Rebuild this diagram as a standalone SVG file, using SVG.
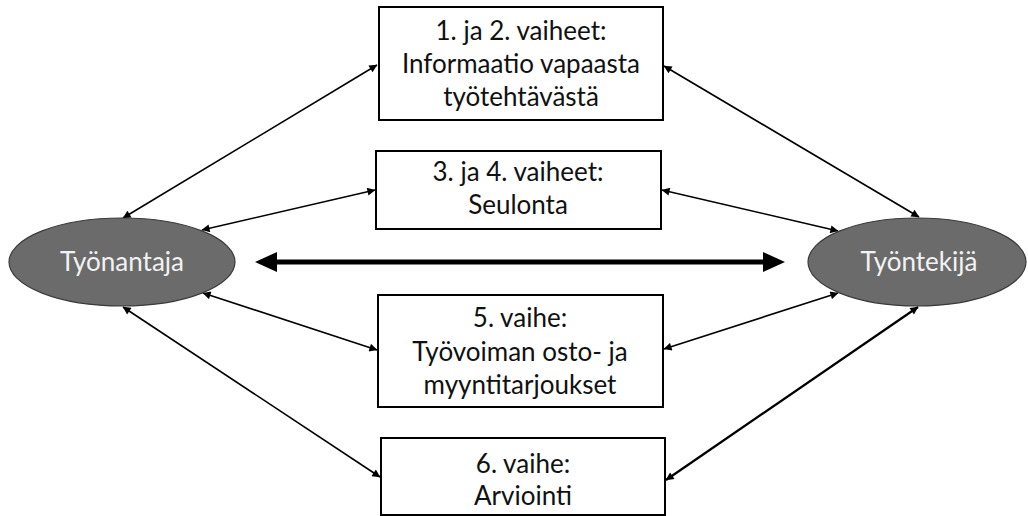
<svg xmlns="http://www.w3.org/2000/svg" width="1028" height="516" viewBox="0 0 1028 516">
  <style>
    .box { fill: #ffffff; stroke: #000000; stroke-width: 2; }
    .party { fill: #6b6b6b; stroke: #3a3a3a; stroke-width: 1.2; }
    .label { font-family: "Lato", "Liberation Sans", sans-serif; font-size: 26px; fill: #111111; text-anchor: middle; }
    .party-label { font-family: "Lato", "Liberation Sans", sans-serif; font-size: 26px; fill: #f2f2f2; text-anchor: middle; }
    .link { stroke: #000000; stroke-width: 1.6; fill: none; marker-start: url(#head); marker-end: url(#head); }
    .link-heavy { stroke-width: 2.3; }
    .exchange { stroke: #000000; stroke-width: 5; fill: none; marker-start: url(#head-bold); marker-end: url(#head-bold); }
  </style>
  <defs>
    <marker id="head" viewBox="0 0 10 10" refX="9.5" refY="5" markerWidth="10" markerHeight="8" markerUnits="userSpaceOnUse" orient="auto-start-reverse">
      <path d="M0,0 L10,5 L0,10 z" fill="#000000"/>
    </marker>
    <marker id="head-bold" viewBox="0 0 22 20" refX="2" refY="10" markerWidth="22" markerHeight="20" markerUnits="userSpaceOnUse" orient="auto-start-reverse">
      <path d="M0,0 L22,10 L0,20 z" fill="#000000"/>
    </marker>
  </defs>

  <rect width="1028" height="516" fill="#ffffff"/>

  <!-- connectors -->
  <g id="connectors">
    <line class="link" x1="123" y1="218" x2="377" y2="65"/>
    <line class="link" x1="202" y1="230" x2="375" y2="190"/>
    <line class="link" x1="203" y1="293" x2="377" y2="350"/>
    <line class="link" x1="123" y1="307" x2="380" y2="477"/>
    <line class="link" x1="919" y1="217" x2="664" y2="66"/>
    <line class="link" x1="838" y1="231" x2="662" y2="190"/>
    <line class="link" x1="838" y1="293" x2="664" y2="349"/>
    <line class="link link-heavy" x1="918" y1="307" x2="666" y2="480"/>
    <line class="exchange" x1="275" y1="262" x2="765" y2="262"/>
  </g>

  <!-- parties -->
  <g id="employer">
    <ellipse class="party" cx="122" cy="262" rx="113" ry="44"/>
    <text class="party-label" x="122" y="271">Työnantaja</text>
  </g>
  <g id="employee">
    <ellipse class="party" cx="917" cy="262" rx="109" ry="44"/>
    <text class="party-label" x="919" y="271">Työntekijä</text>
  </g>

  <!-- phases -->
  <g id="phase-1-2">
    <rect class="box" x="379" y="7" width="284" height="113"/>
    <text class="label" x="521" y="40">1. ja 2. vaiheet:</text>
    <text class="label" x="521" y="73">Informaatio vapaasta</text>
    <text class="label" x="521" y="106">työtehtävästä</text>
  </g>
  <g id="phase-3-4">
    <rect class="box" x="376" y="151" width="285" height="78"/>
    <text class="label" x="518" y="181">3. ja 4. vaiheet:</text>
    <text class="label" x="518" y="214">Seulonta</text>
  </g>
  <g id="phase-5">
    <rect class="box" x="378" y="295" width="285" height="112"/>
    <text class="label" x="520" y="327">5. vaihe:</text>
    <text class="label" x="520" y="361">Työvoiman osto- ja</text>
    <text class="label" x="520" y="394">myyntitarjoukset</text>
  </g>
  <g id="phase-6">
    <rect class="box" x="381" y="438" width="284" height="77"/>
    <text class="label" x="523" y="473">6. vaihe:</text>
    <text class="label" x="523" y="505">Arviointi</text>
  </g>
</svg>
